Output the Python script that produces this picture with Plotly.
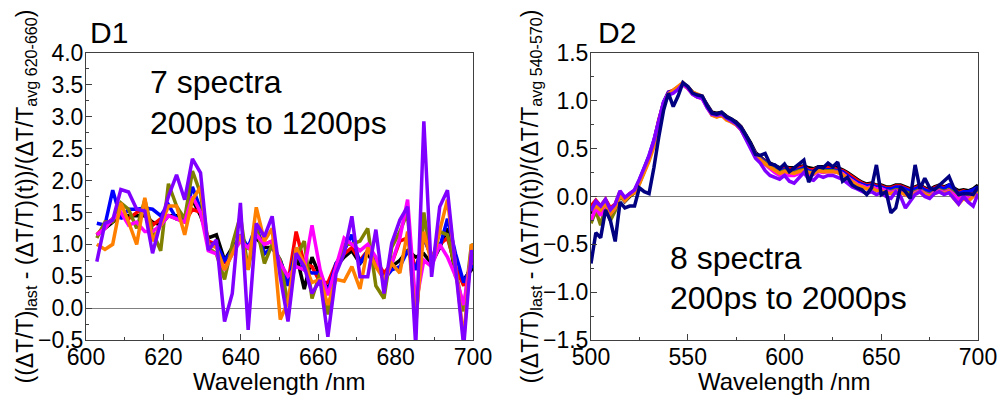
import plotly.graph_objects as go

# ---------------- Panel D1 data ----------------
wl_d1 = [602.8, 604.9, 606.9, 609.0, 611.0, 613.1, 615.2, 617.2, 619.3, 621.3,
         623.4, 625.5, 627.5, 629.6, 631.6, 633.7, 635.8, 637.8, 639.9, 641.9,
         644.0, 646.1, 648.1, 650.2, 652.2, 654.3, 656.4, 658.4, 660.5, 662.5,
         664.6, 666.7, 668.7, 670.8, 672.8, 674.9, 677.0, 679.0, 681.1, 683.1,
         685.2, 687.3, 689.3, 691.4, 693.4, 695.5, 697.6, 699.6, 701.7]

d1_black = [1.15, 1.25, 1.35, 1.45, 1.45, 1.45, 1.45, 1.35, 1.30, 1.45,
            1.45, 1.40, 1.70, 1.45, 1.10, 1.15, 0.75, 0.95, 1.10, 0.95,
            1.10, 0.95, 0.95, 0.75, 0.40, 0.85, 0.30, 0.80, 0.50, 0.30,
            0.65, 0.80, 0.90, 0.70, 0.85, 0.65, 0.55, 0.65, 0.75, 0.90,
            0.80, 0.85, 0.70, 0.95, 1.25, 0.50, 0.45, 0.60, 0.70]
d1_red = [1.15, 1.30, 1.40, 1.45, 1.40, 1.50, 1.55, 1.30, 1.40, 1.45,
          1.40, 1.35, 1.55, 1.50, 1.05, 1.00, 0.70, 0.90, 1.10, 0.95,
          1.20, 1.00, 1.05, 0.70, 0.40, 1.20, 0.70, 0.65, 0.40, 0.40,
          0.70, 0.85, 0.95, 0.75, 0.90, 0.75, 0.55, 0.70, 1.05, 1.10,
          0.60, 1.10, 0.80, 1.00, 1.10, 0.65, 0.35, 0.70, 0.80]
d1_blue = [1.33, 1.30, 1.85, 1.40, 1.55, 1.55, 1.57, 1.55, 1.45, 1.62,
           1.40, 1.40, 1.90, 1.55, 1.00, 1.00, 0.75, 0.90, 1.15, 0.95,
           1.30, 0.85, 0.95, 0.75, 0.35, 0.95, 0.60, 0.55, 0.55, 0.25,
           0.70, 0.90, 1.15, 0.70, 0.90, 0.75, 0.45, 0.60, 0.65, 0.90,
           0.60, 1.10, 0.80, 0.95, 1.40, 0.85, 0.40, 0.65, 0.70]
d1_olive = [1.10, 1.35, 1.35, 1.65, 1.55, 1.25, 1.70, 1.20, 0.90, 1.95,
            1.60, 1.40, 2.15, 1.80, 0.95, 0.85, 0.45, 1.00, 1.45, 0.60,
            1.30, 0.70, 1.00, 0.75, 0.05, 0.80, 1.05, 0.15, 0.55, -0.10,
            0.65, 1.00, 1.00, 1.05, 1.25, 0.35, 0.15, 0.95, 1.20, 1.50,
            -0.30, 1.50, 0.70, 1.20, 1.15, 0.60, -0.05, 1.00, 0.90]
d1_magenta = [1.15, 1.25, 1.40, 1.50, 1.30, 1.35, 1.20, 1.20, 1.30, 1.45,
              1.40, 1.35, 1.75, 1.50, 0.90, 0.85, 0.60, 0.85, 1.05, 0.95,
              1.15, 1.00, 1.05, 0.70, 0.50, 0.65, 0.60, 1.30, 0.60, 0.20,
              0.65, 1.10, 1.00, 0.90, 1.00, 0.80, 0.40, 0.70, 1.10, 1.70,
              0.05, 0.75, 0.65, 1.00, 0.80, 0.50, 0.05, 0.85, 0.40]
d1_orange = [1.00, 0.92, 1.00, 1.65, 1.35, 1.00, 1.73, 1.05, 1.30, 1.60,
             1.60, 1.15, 1.70, 1.90, 1.00, 0.95, 0.60, 0.85, 1.15, 0.60,
             1.58, 1.05, 1.25, -0.18, 0.10, 0.95, 0.70, 0.40, 0.45, 0.05,
             0.45, 0.42, 0.65, 0.30, 0.95, 0.65, 0.45, 0.70, 0.55, 1.20,
             -0.20, 1.20, 0.70, 1.20, 1.70, 0.65, -0.50, 1.00, 0.85]
d1_violet = [0.73, 1.33, 1.38, 1.86, 1.82, 1.55, 1.52, 0.86, 1.35, 1.75,
             2.09, 1.70, 2.34, 2.12, 0.91, 1.07, -0.21, 0.23, 1.65, -0.34,
             1.33, 1.12, 1.44, 0.49, -0.21, 0.86, 0.65, 0.23, 0.44, -0.45,
             0.54, 0.86, 1.44, 0.49, 0.49, 1.23, 0.23, 1.02, 1.38, 1.59,
             -0.60, 2.93, 0.49, 1.59, 1.85, 0.65, -0.60, 0.91, 0.29]

# ---------------- Panel D2 data ----------------
wl_d2 = [500.0, 502.5, 505.0, 507.5, 510.0, 512.5, 515.0, 517.5, 520.0, 522.5,
         525.0, 527.5, 530.0, 532.5, 535.0, 537.5, 540.0, 542.5, 545.0, 547.5,
         550.0, 552.5, 555.0, 557.5, 560.0, 562.5, 565.0, 567.5, 570.0, 572.5,
         575.0, 577.5, 580.0, 582.5, 585.0, 587.5, 590.0, 592.5, 595.0, 597.5,
         600.0, 602.5, 605.0, 607.5, 610.0, 612.5, 615.0, 617.5, 620.0, 622.5,
         625.0, 627.5, 630.0, 632.5, 635.0, 637.5, 640.0, 642.5, 645.0, 647.5,
         650.0, 652.5, 655.0, 657.5, 660.0, 662.5, 665.0, 667.5, 670.0, 672.5,
         675.0, 677.5, 680.0, 682.5, 685.0, 687.5, 690.0, 692.5, 695.0, 697.5,
         700.0]

d2_black = [-0.18, -0.10, -0.15, -0.06, -0.17, -0.12, 0.02, -0.05, 0.00, 0.04,
            0.14, 0.26, 0.39, 0.55, 0.77, 0.96, 1.07, 1.10, 1.13, 1.18,
            1.15, 1.09, 1.06, 1.04, 0.96, 0.88, 0.87, 0.88, 0.84, 0.81,
            0.78, 0.73, 0.65, 0.56, 0.46, 0.41, 0.37, 0.35, 0.32, 0.30,
            0.31, 0.30, 0.30, 0.31, 0.32, 0.30, 0.29, 0.31, 0.31, 0.31,
            0.31, 0.30, 0.28, 0.25, 0.21, 0.18, 0.15, 0.13, 0.14, 0.12,
            0.12, 0.10, 0.10, 0.12, 0.12, 0.10, 0.08, 0.10, 0.12, 0.09,
            0.07, 0.10, 0.12, 0.10, 0.12, 0.09, 0.06, 0.07, 0.06, 0.08, 0.12]
d2_red = [-0.10, -0.04, -0.10, -0.03, -0.12, -0.08, 0.05, -0.02, 0.03, 0.06,
          0.16, 0.28, 0.41, 0.57, 0.80, 0.98, 1.09, 1.11, 1.15, 1.18,
          1.14, 1.08, 1.05, 1.04, 0.95, 0.87, 0.86, 0.87, 0.83, 0.80,
          0.77, 0.72, 0.63, 0.55, 0.45, 0.40, 0.37, 0.34, 0.31, 0.28,
          0.30, 0.29, 0.28, 0.30, 0.31, 0.28, 0.28, 0.30, 0.30, 0.30,
          0.30, 0.28, 0.27, 0.24, 0.20, 0.17, 0.14, 0.12, 0.13, 0.11,
          0.11, 0.09, 0.09, 0.11, 0.11, 0.09, 0.07, 0.09, 0.11, 0.08,
          0.06, 0.09, 0.11, 0.09, 0.11, 0.08, 0.04, 0.06, 0.04, 0.06, 0.09]
d2_blue = [-0.14, -0.07, -0.12, -0.05, -0.16, -0.10, 0.03, -0.03, 0.02, 0.06,
           0.17, 0.30, 0.43, 0.59, 0.81, 0.99, 1.09, 1.10, 1.14, 1.18,
           1.14, 1.08, 1.05, 1.03, 0.95, 0.87, 0.86, 0.87, 0.83, 0.80,
           0.77, 0.72, 0.63, 0.55, 0.45, 0.40, 0.36, 0.33, 0.30, 0.27,
           0.28, 0.27, 0.27, 0.28, 0.30, 0.27, 0.26, 0.29, 0.28, 0.28,
           0.28, 0.27, 0.26, 0.22, 0.18, 0.15, 0.13, 0.11, 0.12, 0.10,
           0.10, 0.08, 0.08, 0.10, 0.10, 0.08, 0.06, 0.08, 0.10, 0.07,
           0.05, 0.08, 0.10, 0.08, 0.12, 0.07, 0.03, 0.05, 0.05, 0.07, 0.10]
d2_olive = [-0.28, -0.15, -0.30, -0.10, -0.25, -0.15, 0.00, -0.05, 0.01, 0.04,
            0.14, 0.26, 0.39, 0.55, 0.77, 0.96, 1.07, 1.09, 1.13, 1.17,
            1.13, 1.07, 1.04, 1.03, 0.94, 0.86, 0.85, 0.86, 0.82, 0.79,
            0.76, 0.71, 0.62, 0.54, 0.44, 0.39, 0.35, 0.31, 0.28, 0.25,
            0.27, 0.26, 0.25, 0.27, 0.28, 0.25, 0.25, 0.27, 0.27, 0.27,
            0.27, 0.26, 0.24, 0.20, 0.16, 0.13, 0.11, 0.09, 0.10, 0.08,
            0.08, 0.06, 0.05, 0.07, 0.07, 0.05, 0.03, 0.05, 0.07, 0.04,
            0.02, 0.05, 0.07, 0.05, 0.07, 0.04, 0.00, 0.02, 0.00, 0.02, 0.06]
d2_magenta = [-0.25, -0.12, -0.20, -0.07, -0.18, -0.12, 0.03, -0.04, 0.02, 0.05,
              0.16, 0.29, 0.42, 0.58, 0.79, 0.98, 1.08, 1.09, 1.13, 1.17,
              1.13, 1.07, 1.04, 1.02, 0.93, 0.85, 0.84, 0.85, 0.81, 0.78,
              0.75, 0.70, 0.61, 0.53, 0.43, 0.38, 0.33, 0.29, 0.25, 0.22,
              0.24, 0.22, 0.22, 0.24, 0.26, 0.23, 0.23, 0.26, 0.25, 0.26,
              0.26, 0.25, 0.24, 0.20, 0.16, 0.13, 0.11, 0.09, 0.10, 0.08,
              0.08, 0.06, 0.04, 0.06, 0.05, 0.02, 0.00, 0.04, 0.06, 0.03,
              0.01, 0.04, 0.06, 0.04, 0.06, 0.02, -0.03, 0.00, -0.02, 0.00, 0.04]
d2_orange = [-0.15, -0.10, -0.14, -0.07, -0.18, -0.12, 0.02, -0.04, 0.01, 0.04,
             0.13, 0.24, 0.37, 0.52, 0.74, 0.95, 1.07, 1.11, 1.15, 1.19,
             1.14, 1.09, 1.07, 1.05, 0.94, 0.85, 0.83, 0.85, 0.80, 0.78,
             0.75, 0.70, 0.61, 0.54, 0.44, 0.38, 0.34, 0.31, 0.27, 0.24,
             0.26, 0.25, 0.24, 0.26, 0.27, 0.25, 0.24, 0.27, 0.26, 0.26,
             0.26, 0.25, 0.23, 0.19, 0.15, 0.12, 0.10, 0.08, 0.09, 0.06,
             0.06, 0.04, 0.03, 0.05, 0.04, 0.02, -0.01, 0.03, 0.05, 0.02,
             0.00, 0.03, 0.05, 0.03, 0.05, -0.02, -0.08, -0.02, -0.05, 0.00, 0.04]
d2_violet = [-0.15, -0.05, -0.10, -0.03, -0.14, -0.08, 0.06, -0.01, 0.03, 0.07,
             0.18, 0.30, 0.42, 0.58, 0.79, 0.98, 1.06, 1.08, 1.12, 1.18,
             1.14, 1.07, 1.04, 1.03, 0.93, 0.86, 0.85, 0.86, 0.82, 0.79,
             0.76, 0.70, 0.60, 0.50, 0.40, 0.35, 0.27, 0.22, 0.20, 0.18,
             0.22, 0.16, 0.14, 0.20, 0.25, 0.18, 0.17, 0.22, 0.20, 0.22,
             0.22, 0.20, 0.18, 0.14, 0.10, 0.08, 0.05, 0.03, 0.05, 0.02,
             0.04, 0.00, -0.02, 0.05, 0.00, -0.12, -0.05, 0.02, 0.05, 0.00,
             -0.02, 0.03, 0.05, 0.02, 0.04, -0.02, -0.08, 0.00, -0.06, -0.10, 0.03]
d2_navy = [-0.70, -0.38, -0.43, -0.14, -0.25, -0.47, -0.06, -0.12, -0.10, -0.10,
           0.09, 0.05, 0.03, 0.30, 0.62, 0.90, 1.08, 0.94, 1.05, 1.19,
           1.15, 1.08, 1.06, 1.05, 0.95, 0.87, 0.86, 0.88, 0.83, 0.81,
           0.77, 0.72, 0.64, 0.55, 0.44, 0.43, 0.45, 0.34, 0.33, 0.29,
           0.34, 0.26, 0.30, 0.34, 0.38, 0.15, 0.26, 0.31, 0.30, 0.35,
           0.31, 0.36, 0.16, 0.20, 0.12, 0.09, 0.07, 0.02, 0.09, 0.33,
           0.02, 0.05, -0.17, -0.12, 0.10, 0.05, -0.02, 0.33, 0.08, 0.19,
           0.09, 0.07, 0.12, 0.17, 0.21, 0.09, 0.02, 0.03, 0.03, 0.02, 0.10]

d1_series = [("black", d1_black), ("#ff0000", d1_red), ("#0000ff", d1_blue),
             ("#808000", d1_olive), ("#ff00ff", d1_magenta), ("#ff8000", d1_orange),
             ("#8000ff", d1_violet)]
d2_series = [("black", d2_black), ("#ff0000", d2_red), ("#0000ff", d2_blue),
             ("#808000", d2_olive), ("#ff00ff", d2_magenta), ("#ff8000", d2_orange),
             ("#8000ff", d2_violet), ("#000080", d2_navy)]

FONT = "Liberation Sans, Arial, sans-serif"
W, H = 1003, 398

fig = go.Figure()
for color, vals in d1_series:
    fig.add_trace(go.Scatter(x=wl_d1, y=vals, mode="lines", xaxis="x", yaxis="y",
                             line=dict(color=color, width=3.5), showlegend=False))
for color, vals in d2_series:
    fig.add_trace(go.Scatter(x=wl_d2, y=vals, mode="lines", xaxis="x2", yaxis="y2",
                             line=dict(color=color, width=3.5), showlegend=False))

def px(x):
    return x / W

def py(y):
    return 1 - y / H

axis_common = dict(
    showline=True, mirror=True, linecolor="#404040", linewidth=1,
    ticks="inside", ticklen=6, tickwidth=1, tickcolor="#404040",
    showgrid=False, automargin=False,
    tickfont=dict(family=FONT, size=23, color="black"),
)
ydom = [py(340), py(53)]

fig.update_layout(
    width=W, height=H,
    paper_bgcolor="white", plot_bgcolor="white",
    margin=dict(l=0, r=0, t=0, b=0, autoexpand=False),
    font=dict(family=FONT, color="black"),
    xaxis=dict(domain=[px(86), px(473)], anchor="y", range=[600, 700],
               dtick=20, tick0=600, zeroline=False, ticklabelstandoff=-4,
               minor=dict(dtick=10, ticks="inside", ticklen=3, tickcolor="#404040"),
               **axis_common),
    yaxis=dict(domain=ydom, anchor="x", range=[-0.5, 4.0], dtick=0.5, tick0=0,
               tickformat=".1f", zeroline=True, zerolinecolor="#808080", zerolinewidth=1,
               ticklabelstandoff=-3,
               minor=dict(dtick=0.25, ticks="inside", ticklen=3, tickcolor="#404040"),
               **axis_common),
    xaxis2=dict(domain=[px(591), px(978)], anchor="y2", range=[500, 700],
                dtick=50, tick0=500, zeroline=False, ticklabelstandoff=-4,
                minor=dict(dtick=25, ticks="inside", ticklen=3, tickcolor="#404040"),
                **axis_common),
    yaxis2=dict(domain=ydom, anchor="x2", range=[-1.5, 1.5], dtick=0.5, tick0=0,
                tickformat=".1f", zeroline=True, zerolinecolor="#808080", zerolinewidth=1,
                ticklabelstandoff=-3,
                minor=dict(dtick=0.25, ticks="inside", ticklen=3, tickcolor="#404040"),
                **axis_common),
)

ann = []
def text(x, y, s, size, angle=0, xanchor="center"):
    ann.append(dict(x=px(x), y=py(y), xref="paper", yref="paper", text=s, showarrow=False,
                    textangle=angle, xanchor=xanchor, yanchor="middle",
                    font=dict(family=FONT, size=size, color="black")))

text(88, 33, "D1", 30, xanchor="left")
text(596, 33, "D2", 30, xanchor="left")
text(148, 82, "7 spectra", 32, xanchor="left")
text(148, 123, "200ps to 1200ps", 32, xanchor="left")
text(668, 258, "8 spectra", 32, xanchor="left")
text(668, 298, "200ps to 2000ps", 32, xanchor="left")
text(279.5, 381, "Wavelength /nm", 24)
text(784.5, 381, "Wavelength /nm", 24)
text(26, 196.5, "((ΔT/T)<sub>last</sub> - (ΔT/T)(t))/(ΔT/T<sub>avg 620-660</sub>)", 23, angle=-90)
text(531, 196.5, "((ΔT/T)<sub>last</sub> - (ΔT/T)(t))/(ΔT/T<sub>avg 540-570</sub>)", 23, angle=-90)
fig.update_layout(annotations=ann)

fig.write_html("out.html", config={"displayModeBar": False})

# remove the browser's default page margin so the figure sits at the window origin
with open("out.html", "r", encoding="utf-8") as f:
    html = f.read()
html = html.replace("<head>", "<head><style>html,body{margin:0;padding:0;overflow:hidden;}</style>", 1)
with open("out.html", "w", encoding="utf-8") as f:
    f.write(html)
